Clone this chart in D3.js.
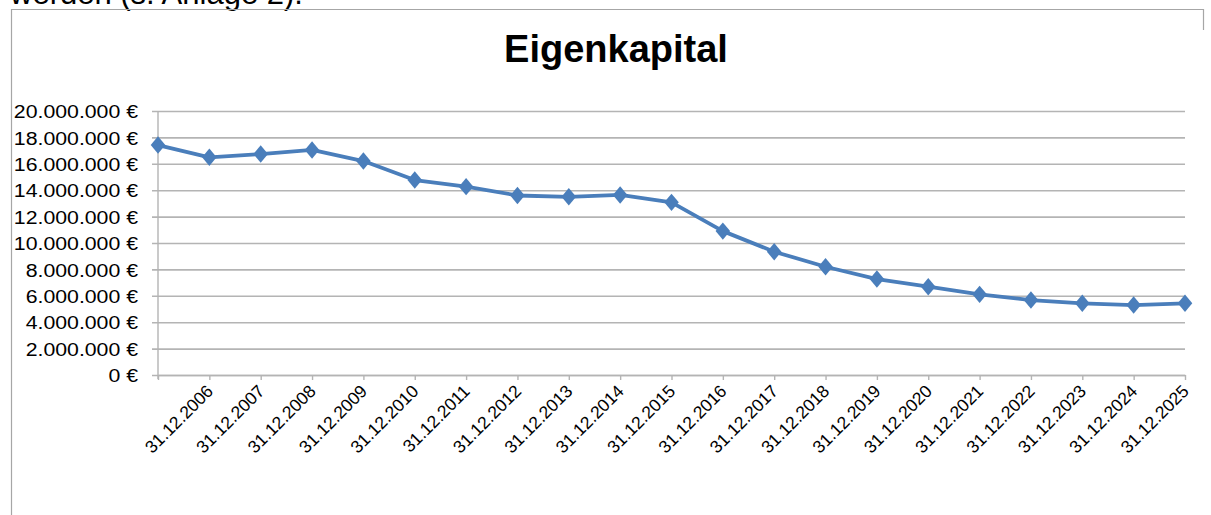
<!DOCTYPE html>
<html>
<head>
<meta charset="utf-8">
<script src="https://cdn.jsdelivr.net/npm/d3@7"></script>
<style>
  html, body { margin: 0; padding: 0; background: #ffffff; }
  svg { display: block; }
  text { font-family: "Liberation Sans", Arial, sans-serif; fill: #000; }
</style>
</head>
<body>
<svg id="chart" width="1211" height="515"></svg>
<script>
// ---- data ----
const categories = ["", "31.12.2006", "31.12.2007", "31.12.2008", "31.12.2009", "31.12.2010",
  "31.12.2011", "31.12.2012", "31.12.2013", "31.12.2014", "31.12.2015", "31.12.2016",
  "31.12.2017", "31.12.2018", "31.12.2019", "31.12.2020", "31.12.2021", "31.12.2022",
  "31.12.2023", "31.12.2024", "31.12.2025"];
const eigenkapital = [17420000, 16490000, 16740000, 17050000, 16210000, 14770000, 14270000,
  13600000, 13500000, 13640000, 13080000, 10900000, 9340000, 8200000, 7270000, 6690000,
  6110000, 5680000, 5430000, 5300000, 5430000];
const yTicks = [0, 2000000, 4000000, 6000000, 8000000, 10000000, 12000000, 14000000,
  16000000, 18000000, 20000000];
const chartTitle = "Eigenkapital";
const aboveText = "werden (s. Anlage 2).";

// ---- layout ----
const svg = d3.select("#chart");
const plot = { left: 158, right: 1185, top: 111, bottom: 375 };
const lineColor = "#4a7ebb";
const gridColor = "#b4b4b4";

const locale = d3.formatLocale({ decimal: ",", thousands: ".", grouping: [3], currency: ["", " €"] });
const fmt = locale.format("$,.0f");

const x = d3.scalePoint().domain(d3.range(categories.length)).range([plot.left, plot.right]);
const y = d3.scaleLinear().domain([0, 20000000]).range([plot.bottom, plot.top]);

// cut-off text above the chart (continues from the page above)
svg.append("text").attr("x", 10).attr("y", 4)
  .style("font-size", "31px").text(aboveText);

// chart frame (partially visible)
svg.append("line").attr("x1", 11.5).attr("x2", 11.5).attr("y1", 9).attr("y2", 515)
  .attr("stroke", "#a6a6a6").attr("stroke-width", 1.2);
svg.append("line").attr("x1", 11).attr("x2", 1203.5).attr("y1", 9.5).attr("y2", 9.5)
  .attr("stroke", "#a6a6a6").attr("stroke-width", 1.2);
svg.append("line").attr("x1", 1203.5).attr("x2", 1203.5).attr("y1", 9).attr("y2", 30)
  .attr("stroke", "#a6a6a6").attr("stroke-width", 1.2);

// title
svg.append("text").attr("x", 616).attr("y", 62).attr("text-anchor", "middle")
  .style("font-size", "38px").style("font-weight", "bold").text(chartTitle);

// y axis with gridlines
const yAxis = d3.axisLeft(y).tickValues(yTicks).tickFormat(fmt)
  .tickSizeInner(-(plot.right - plot.left)).tickSizeOuter(0).tickPadding(20);
const gy = svg.append("g").attr("transform", `translate(${plot.left},0)`).call(yAxis);
gy.select(".domain").remove();
gy.selectAll(".tick line").attr("stroke", gridColor).attr("stroke-width", 1.6)
  .attr("x1", -6);
gy.selectAll(".tick text")
  .style("font-size", "18.5px").attr("font-family", null)
  .attr("text-anchor", "end")
  .attr("x", 0).attr("dy", "0.36em")
  .attr("transform", "translate(-20,0) scale(1.15,1)");

// y axis line
svg.append("line").attr("x1", plot.left).attr("x2", plot.left)
  .attr("y1", plot.top).attr("y2", plot.bottom + 4)
  .attr("stroke", gridColor).attr("stroke-width", 1.4);

// x axis
const xAxis = d3.axisBottom(x).tickFormat(i => categories[i]).tickSizeInner(5).tickSizeOuter(0);
const gx = svg.append("g").attr("transform", `translate(0,${plot.bottom})`).call(xAxis);
gx.select(".domain").attr("stroke", gridColor).attr("stroke-width", 1.6);
gx.selectAll(".tick line").attr("stroke", gridColor).attr("stroke-width", 1.4);
gx.selectAll(".tick text")
  .style("font-size", "17.5px").attr("font-family", null)
  .attr("text-anchor", "end")
  .attr("y", 0).attr("dy", "0.35em")
  .attr("transform", "translate(0,13) rotate(-45)");

// line
const line = d3.line().x((d, i) => x(i)).y(d => y(d));
svg.append("path").datum(eigenkapital).attr("d", line)
  .attr("fill", "none").attr("stroke", lineColor).attr("stroke-width", 3.8)
  .attr("stroke-linejoin", "round");

// diamond markers
const diamond = d3.symbol().type(d3.symbolDiamond2).size(160);
svg.append("g").selectAll("path").data(eigenkapital).join("path")
  .attr("transform", (d, i) => `translate(${x(i)},${y(d)}) scale(0.92,1.1)`)
  .attr("d", diamond).attr("fill", lineColor);
</script>
</body>
</html>
